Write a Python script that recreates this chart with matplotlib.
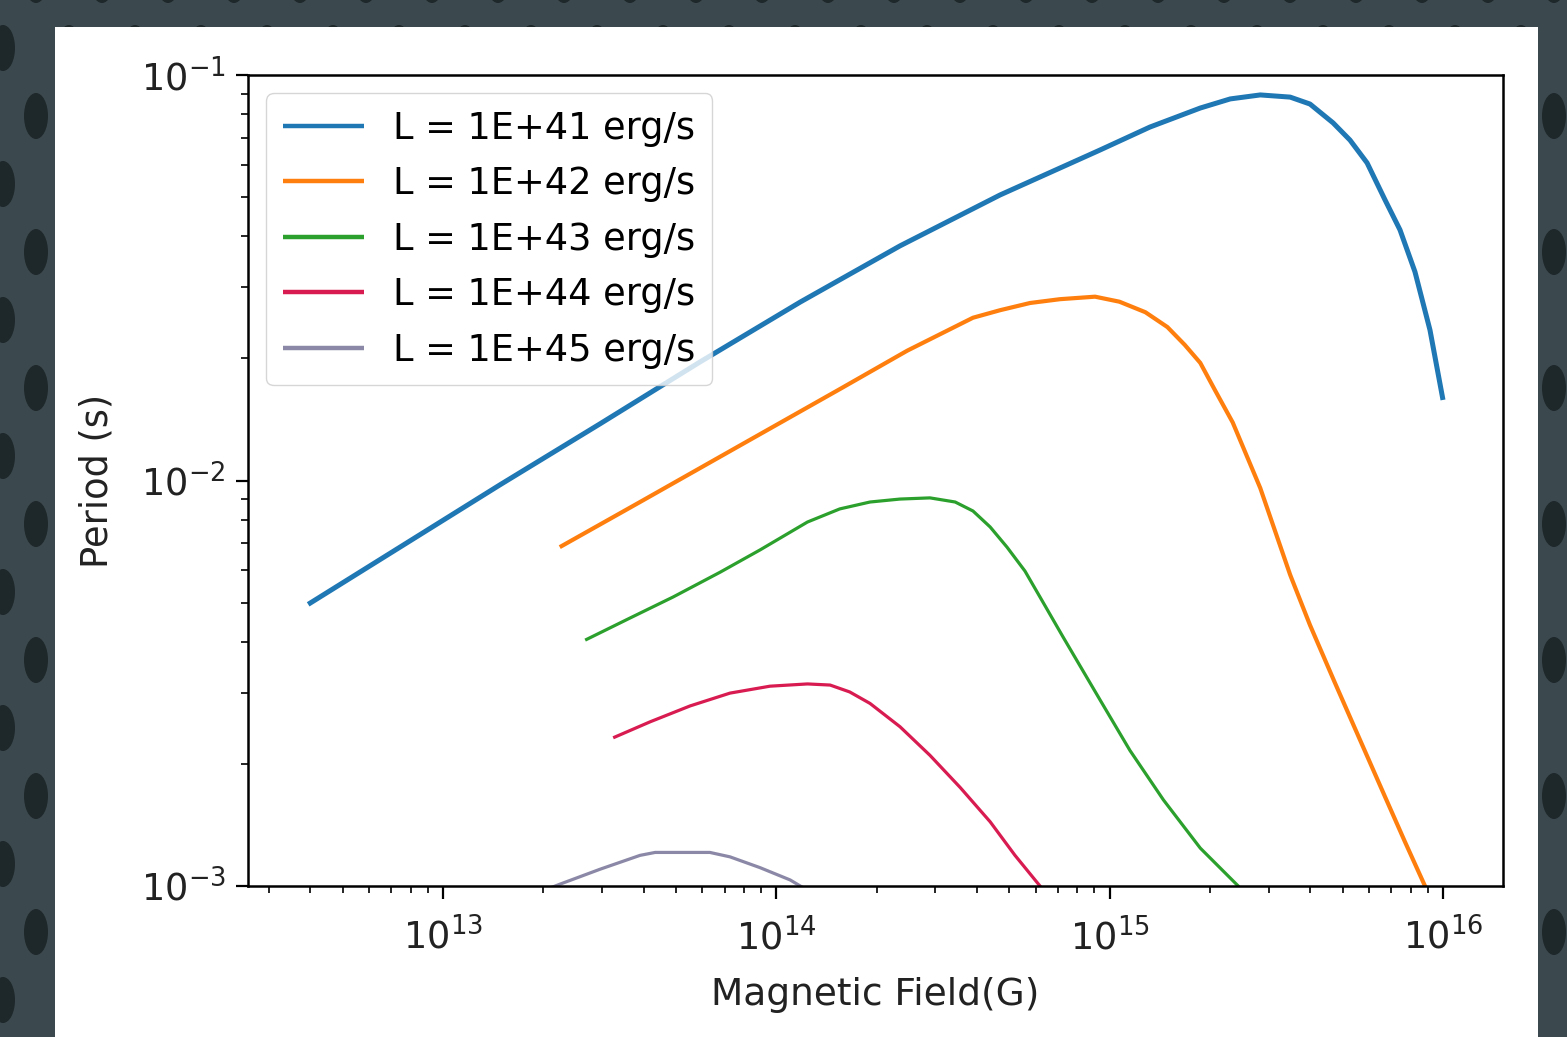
import matplotlib
matplotlib.use("Agg")
import matplotlib.pyplot as plt
from matplotlib.patches import Rectangle, Ellipse

# ---- data ----
labels = ["L = 1E+41 erg/s", "L = 1E+42 erg/s", "L = 1E+43 erg/s",
          "L = 1E+44 erg/s", "L = 1E+45 erg/s"]
colors = ["#1f77b4", "#ff7f0e", "#2ca02c", "#d81b50", "#8a88a6"]

B_41 = [3.94e12, 7.43e12, 1.48e13, 2.96e13, 5.90e13, 1.18e14, 2.35e14, 4.69e14,
        9.35e14, 1.32e15, 1.87e15, 2.30e15, 2.83e15, 3.48e15, 3.99e15, 4.68e15,
        5.26e15, 5.92e15, 6.70e15, 7.43e15, 8.24e15, 9.14e15, 1.0e16]
P_41 = [4.95e-3, 6.85e-3, 9.75e-3, 1.38e-2, 1.96e-2, 2.755e-2, 3.79e-2, 5.06e-2,
        6.53e-2, 7.44e-2, 8.29e-2, 8.73e-2, 8.93e-2, 8.82e-2, 8.48e-2, 7.62e-2,
        6.91e-2, 6.07e-2, 4.92e-2, 4.15e-2, 3.27e-2, 2.35e-2, 1.58e-2]

B_42 = [2.24e13, 3.90e13, 7.78e13, 1.55e14, 2.47e14, 3.89e14, 4.69e14, 5.77e14,
        7.10e14, 9.04e14, 1.07e15, 1.28e15, 1.49e15, 1.68e15, 1.87e15, 2.07e15,
        2.34e15, 2.83e15, 3.48e15, 3.99e15, 4.74e15, 5.64e15, 6.70e15, 7.69e15,
        8.83e15, 9.80e15]
P_42 = [6.85e-3, 8.85e-3, 1.22e-2, 1.68e-2, 2.09e-2, 2.52e-2, 2.63e-2, 2.74e-2,
        2.80e-2, 2.84e-2, 2.76e-2, 2.60e-2, 2.39e-2, 2.16e-2, 1.95e-2, 1.67e-2,
        1.39e-2, 9.58e-3, 5.85e-3, 4.40e-3, 3.17e-3, 2.29e-3, 1.66e-3, 1.285e-3,
        1.00e-3, 8.34e-4]

B_43 = [2.67e13, 3.64e13, 4.90e13, 6.78e13, 8.93e13, 1.24e14, 1.55e14, 1.91e14,
        2.35e14, 2.89e14, 3.44e14, 3.89e14, 4.38e14, 4.92e14, 5.57e14, 6.18e14,
        7.25e14, 9.35e14, 1.15e15, 1.45e15, 1.87e15, 2.43e15, 2.73e15]
P_43 = [4.04e-3, 4.58e-3, 5.16e-3, 5.94e-3, 6.74e-3, 7.90e-3, 8.51e-3, 8.85e-3,
        9.00e-3, 9.06e-3, 8.85e-3, 8.41e-3, 7.68e-3, 6.85e-3, 5.98e-3, 5.16e-3,
        4.11e-3, 2.88e-3, 2.16e-3, 1.63e-3, 1.24e-3, 1.00e-3, 8.97e-4]

B_44 = [3.24e13, 4.18e13, 5.51e13, 7.26e13, 9.57e13, 1.24e14, 1.45e14, 1.66e14,
        1.91e14, 2.35e14, 2.89e14, 3.56e14, 4.38e14, 5.20e14, 6.18e14, 6.86e14]
P_44 = [2.32e-3, 2.54e-3, 2.78e-3, 2.99e-3, 3.11e-3, 3.15e-3, 3.13e-3, 3.01e-3,
        2.82e-3, 2.47e-3, 2.10e-3, 1.75e-3, 1.44e-3, 1.19e-3, 1.00e-3, 8.97e-4]

B_45 = [1.82e13, 2.24e13, 2.96e13, 3.90e13, 4.33e13, 6.32e13, 7.26e13, 8.93e13,
        1.10e14, 1.31e14]
P_45 = [9.45e-4, 1.01e-3, 1.10e-3, 1.19e-3, 1.21e-3, 1.21e-3, 1.18e-3, 1.11e-3,
        1.035e-3, 9.5e-4]

series_B = [B_41, B_42, B_43, B_44, B_45]
series_P = [P_41, P_42, P_43, P_44, P_45]
widths = [3.6, 3.0, 2.3, 2.3, 2.3]

W, H = 1567, 1037
fig = plt.figure(figsize=(W / 100, H / 100), dpi=100)
fig.patch.set_facecolor("#3b494e")

# decorative dotted backdrop
for j, yy in enumerate(range(-20, H + 60, 68)):
    off = 0 if j % 2 == 0 else 33
    for xx in range(off - 30, W + 60, 66):
        fig.add_artist(Ellipse((xx / W, 1 - yy / H), 24 / W, 46 / H,
                               transform=fig.transFigure, facecolor="#1e272a",
                               edgecolor="none", zorder=0))
# white plot panel
fig.add_artist(Rectangle((55 / W, 0), (1538 - 55) / W, 1 - 27 / H,
                         transform=fig.transFigure, facecolor="white",
                         edgecolor="none", zorder=0.5))

ax = fig.add_axes([248 / W, 1 - 886 / H, (1503 - 248) / W, (886 - 75) / H])
ax.set_zorder(2)
ax.set_facecolor("white")

for Bv, Pv, c, lab, lw in zip(series_B, series_P, colors, labels, widths):
    ax.plot(Bv, Pv, color=c, lw=lw, label=lab, solid_capstyle="butt",
            solid_joinstyle="round")

ax.set_xscale("log")
ax.set_yscale("log")
ax.set_xlim(10 ** 12.415, 10 ** 16.18)
ax.set_ylim(1e-3, 1e-1)

fs = 26.5
ax.set_xlabel("Magnetic Field(G)", fontsize=fs + 0.5, color="#222222", labelpad=14)
ax.set_ylabel("Period (s)", fontsize=fs, color="#222222", labelpad=18)
ax.tick_params(which="major", labelsize=fs, length=9, width=1.6, pad=7,
               labelcolor="#222222")
ax.tick_params(axis="x", which="major", pad=14)
ax.tick_params(which="minor", length=5, width=1.2)
for s in ax.spines.values():
    s.set_linewidth(1.8)

leg = ax.legend(loc="upper left", fontsize=fs, handlelength=2.2,
                handletextpad=0.8, labelspacing=0.5, borderaxespad=0.5,
                borderpad=0.45, framealpha=0.8)
for line in leg.get_lines():
    line.set_linewidth(3.2)

fig.savefig("out.png", dpi=100, facecolor=fig.get_facecolor())
